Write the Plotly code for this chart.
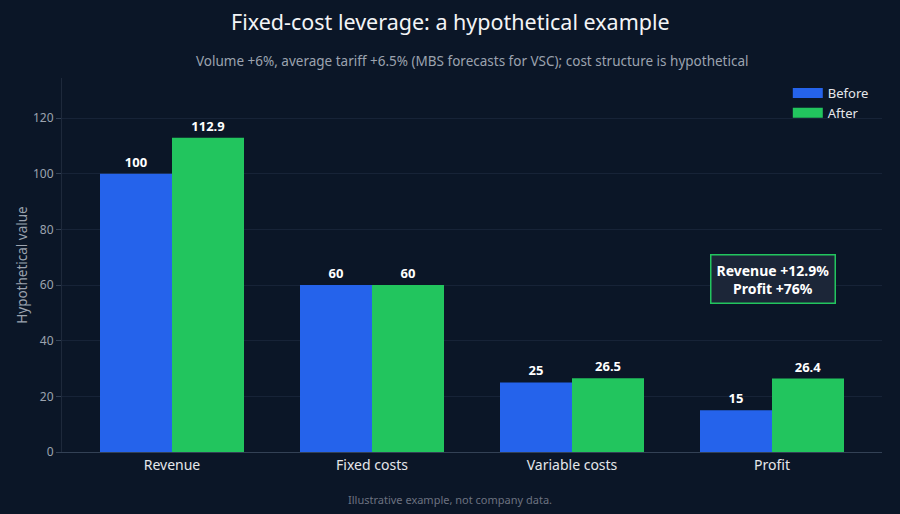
import plotly.graph_objects as go

categories = ["Revenue", "Fixed costs", "Variable costs", "Profit"]
before = [100, 60, 25, 15]
after = [112.9, 60, 26.5, 26.4]
before_labels = ["100", "60", "25", "15"]
after_labels = ["112.9", "60", "26.5", "26.4"]

BG = "#0b1627"
BLUE = "#2563eb"
GREEN = "#22c55e"
FONT = "Noto Sans"

fig = go.Figure()

# bars (legend drawn by the two dummy traces below, to get wide swatches)
fig.add_trace(go.Bar(
    x=categories,
    y=before,
    name="Before",
    marker=dict(color=BLUE, line=dict(width=0)),
    text=before_labels,
    textposition="outside",
    textfont=dict(family=FONT, size=13, color="#ffffff", weight="bold"),
    cliponaxis=False,
    showlegend=False
))

fig.add_trace(go.Bar(
    x=categories,
    y=after,
    name="After",
    marker=dict(color=GREEN, line=dict(width=0)),
    text=after_labels,
    textposition="outside",
    textfont=dict(family=FONT, size=13, color="#ffffff", weight="bold"),
    cliponaxis=False,
    showlegend=False
))

for name, color in [("Before", BLUE), ("After", GREEN)]:
    fig.add_trace(go.Scatter(
        x=[None], y=[None],
        mode="lines",
        name=name,
        line=dict(color=color, width=13),
        hoverinfo="skip"
    ))

# title and footer are centred on the page, subtitle on the plot area
PAGE_CENTER = 0.4732

fig.update_layout(
    width=900,
    height=514,
    paper_bgcolor=BG,
    plot_bgcolor=BG,
    font=dict(family=FONT, color="#9ca3af"),
    margin=dict(l=62, r=18, t=78, b=62),
    barmode="group",
    bargap=0.28,
    bargroupgap=0,
    showlegend=True,
    legend=dict(
        x=0.99, y=1.0, xanchor="right", yanchor="top",
        bgcolor="rgba(0,0,0,0)",
        font=dict(size=13, color="#e5e7eb")
    ),
    annotations=[
        dict(
            text="Fixed-cost leverage: a hypothetical example",
            xref="paper", yref="paper", x=PAGE_CENTER, y=1.15,
            xanchor="center", yanchor="middle", showarrow=False,
            font=dict(size=21.5, color="#f3f4f6")
        ),
        dict(
            text="Volume +6%, average tariff +6.5% (MBS forecasts for VSC); cost structure is hypothetical",
            xref="paper", yref="paper", x=0.5, y=1.045,
            xanchor="center", yanchor="middle", showarrow=False,
            font=dict(size=13.5, color="#9ca3af")
        ),
        dict(
            text="Illustrative example, not company data.",
            xref="paper", yref="paper", x=PAGE_CENTER, y=-0.126,
            xanchor="center", yanchor="middle", showarrow=False,
            font=dict(size=11, color="#6b7280")
        ),
        dict(
            text="<b>Revenue +12.9%<br>Profit +76%</b>",
            xref="paper", yref="y", x=0.867, y=62,
            xanchor="center", yanchor="middle", showarrow=False,
            font=dict(size=14, color="#ffffff"),
            bgcolor="#1c2638",
            bordercolor=GREEN,
            borderwidth=1.5,
            borderpad=5
        )
    ]
)

fig.update_xaxes(
    range=[-0.55, 3.55],
    showgrid=False,
    showline=True,
    linecolor="#334155",
    ticks="",
    tickfont=dict(size=14, color="#e5e7eb")
)

fig.update_yaxes(
    range=[0, 134.4],
    dtick=20,
    showgrid=True,
    gridcolor="#172337",
    zeroline=False,
    showline=True,
    linecolor="#1e293b",
    ticks="outside",
    ticklen=5,
    tickcolor="#334155",
    tickfont=dict(size=12, color="#9ca3af"),
    title=dict(text="Hypothetical value", font=dict(size=13.5, color="#9ca3af"), standoff=2)
)

fig.write_html(
    "out.html",
    config={"displayModeBar": False},
    post_script="document.body.style.margin='0';document.body.style.background='" + BG + "';"
)
